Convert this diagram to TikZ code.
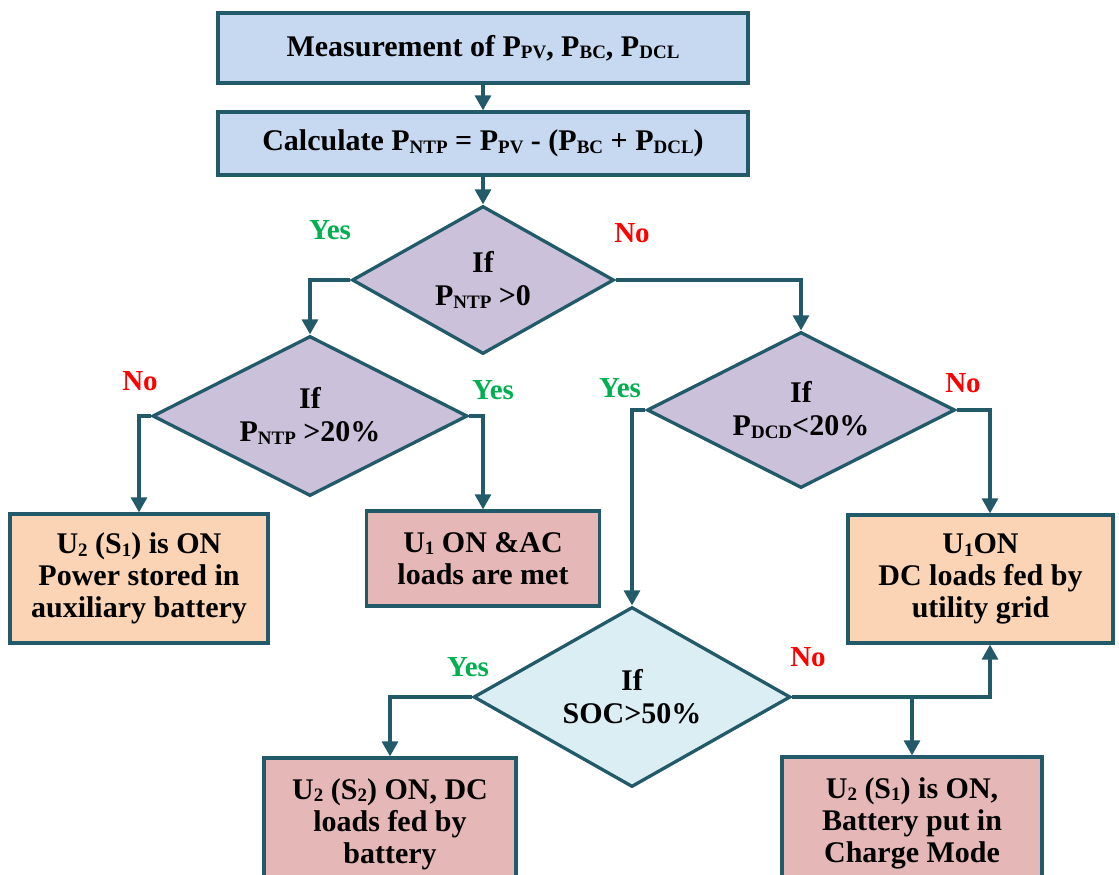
\documentclass[tikz,border=0pt]{standalone}
\usepackage{fontspec}
\setmainfont{Liberation Serif}
\usetikzlibrary{shapes.geometric,arrows.meta,calc}
\definecolor{edge}{RGB}{35,90,105}
\definecolor{bluefill}{RGB}{198,217,240}
\definecolor{purplefill}{RGB}{204,193,218}
\definecolor{orangefill}{RGB}{250,212,181}
\definecolor{pinkfill}{RGB}{229,184,183}
\definecolor{ltbluefill}{RGB}{219,238,243}
\definecolor{yesgreen}{RGB}{0,176,80}
\definecolor{nored}{RGB}{255,0,0}
\newcommand\sbs[1]{\raisebox{-2.5pt}{\fontsize{19}{19}\selectfont #1}}
\tikzset{
  base/.style={draw=edge, line width=3.3pt, align=center, inner sep=1pt,
    font=\fontsize{30}{32}\selectfont\bfseries},
  procbox/.style={base, rectangle},
  decbox/.style={base, diamond, inner sep=0pt, font=\fontsize{30}{33}\selectfont\bfseries},
  arr/.style={draw=edge, line width=3.1pt, -{Triangle[length=15pt,width=16pt]}},
  yeslbl/.style={text=yesgreen, font=\fontsize{29}{29}\selectfont\bfseries, inner sep=0pt},
  nolbl/.style={text=nored, font=\fontsize{29}{29}\selectfont\bfseries, inner sep=0pt},
}
\begin{document}
\begin{tikzpicture}[x=1pt,y=-1pt]
\path[use as bounding box] (0,0) rectangle (1119,875);
\clip (0,0) rectangle (1119,875);
\node[procbox, fill=bluefill, minimum width=530pt, minimum height=70pt] (b1) at (483,48)
  {Measurement of P\sbs{PV}, P\sbs{BC}, P\sbs{DCL}};
\node[procbox, fill=bluefill, minimum width=530pt, minimum height=63pt] (b2) at (483,143.5)
  {Calculate P\sbs{NTP} = P\sbs{PV} - (P\sbs{BC} + P\sbs{DCL})};
\node[decbox, fill=purplefill, minimum width=262pt, minimum height=148pt, shape aspect=1.77] (d1) at (483,280)
  {If\\P\sbs{NTP} >0};
\node[decbox, fill=purplefill, minimum width=315pt, minimum height=160pt, shape aspect=1.97] (d2) at (310,416)
  {If\\P\sbs{NTP} >20\%};
\node[decbox, fill=purplefill, minimum width=308pt, minimum height=156pt, shape aspect=1.97] (d3) at (801,410)
  {If\\P\sbs{DCD}<20\%};
\node[decbox, fill=ltbluefill, minimum width=317pt, minimum height=180pt, shape aspect=1.76] (d4) at (632,697)
  {If\\SOC>50\%};
\node[procbox, fill=orangefill, minimum width=258pt, minimum height=129pt] (b6) at (139,578.5)
  {U\sbs{2} (S\sbs{1}) is ON\\Power stored in\\auxiliary battery};
\node[procbox, fill=pinkfill, minimum width=233pt, minimum height=95pt] (b7) at (483,558.5)
  {U\sbs{1} ON \&AC\\loads are met};
\node[procbox, fill=orangefill, minimum width=265pt, minimum height=128pt] (b8) at (980.5,579)
  {U\sbs{1}ON\\DC loads fed by\\utility grid};
\node[procbox, fill=pinkfill, minimum width=252pt, minimum height=132pt] (b10) at (390,824)
  {U\sbs{2} (S\sbs{2}) ON, DC\\loads fed by\\battery};
\node[procbox, fill=pinkfill, minimum width=260pt, minimum height=132pt] (b11) at (912,823)
  {U\sbs{2} (S\sbs{1}) is ON,\\Battery put in\\Charge Mode};
% connectors
\draw[arr] (b1.south) -- (b2.north);
\draw[arr] (b2.south) -- (d1.north);
\draw[arr] (d1.west) -| (d2.north);
\draw[arr] (d1.east) -| (d3.north);
\draw[arr] (d2.west) -| (b6.north);
\draw[arr] (d2.east) -| (b7.north);
\draw[arr] (d3.west) -| (d4.north);
\draw[arr] (d3.east) -| ([xshift=9.5pt]b8.north);
\draw[arr] (d4.west) -| (b10.north);
\draw[arr] (d4.east) -| ([xshift=9.5pt]b8.south);
\coordinate (br) at (d4.east -| b11.north);
\draw[arr] (br) -- (b11.north);
% labels
\node[yeslbl] (l1) at (330,230) {Yes};
\node[nolbl] (l2) at (632,233) {No};
\node[nolbl] (l3) at (140,381) {No};
\node[yeslbl] (l4) at (493,390) {Yes};
\node[yeslbl] (l5) at (620,388) {Yes};
\node[nolbl] (l6) at (963,383) {No};
\node[yeslbl] (l7) at (468,667) {Yes};
\node[nolbl] (l8) at (808,657) {No};
\end{tikzpicture}
\end{document}
